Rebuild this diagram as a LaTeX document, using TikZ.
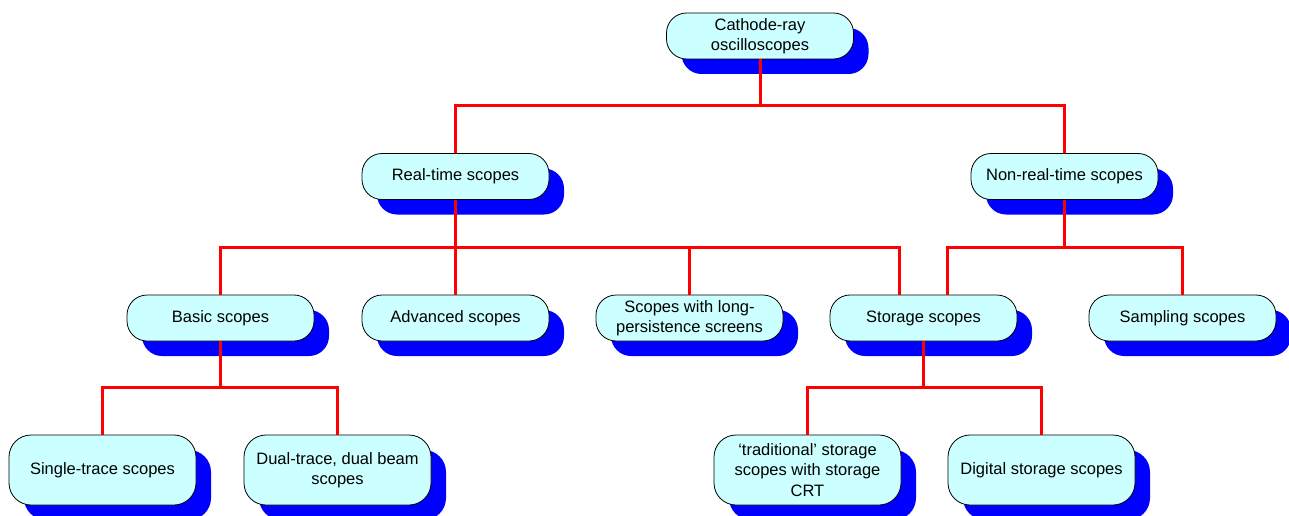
\documentclass[tikz,border=0pt]{standalone}
\usepackage{fontspec}
\setmainfont{Liberation Sans}
\usetikzlibrary{positioning,shadows}
\definecolor{boxfill}{RGB}{204,255,255}
\tikzset{
    scopebox/.style={
           rectangle,
           rounded corners=20pt,
           draw=black, line width=0.8pt,
           fill=boxfill,
           minimum width=187pt,
           minimum height=46pt,
           inner sep=2pt,
           align=center,
           font=\fontsize{16.5}{20.5}\selectfont,
           drop shadow={shadow xshift=15pt, shadow yshift=-15pt,
                        fill=blue, opacity=1},
           },
    tallbox/.style={
           scopebox,
           minimum height=70pt,
           rounded corners=22pt,
           },
    link/.style={
           draw=red, line width=3pt,
           },
}
\begin{document}
\begin{tikzpicture}[x=1pt,y=-1pt]
 \useasboundingbox (0,0) rectangle (1289,516);

 % root
 \node[scopebox] (CRO) at (760,36) {Cathode-ray\\oscilloscopes};

 % second level
 \node[scopebox] (REALTIME) at (455.5,176.5) {Real-time scopes};
 \node[scopebox] (NONREAL) at (1064.5,176.5) {Non-real-time scopes};

 % third level
 \node[scopebox] (BASIC) at (220.5,318) {Basic scopes};
 \node[scopebox] (ADVANCED) at (455.5,318) {Advanced scopes};
 \node[scopebox] (LONGPERS) at (689.5,318) {Scopes with long-\\persistence screens};
 \node[scopebox] (STORAGE) at (923.5,318) {Storage scopes};
 \node[scopebox] (SAMPLING) at (1182.5,318) {Sampling scopes};

 % fourth level
 \node[tallbox] (SINGLE) at (102.5,470) {Single-trace scopes};
 \node[tallbox] (DUAL) at (337.5,470) {Dual-trace, dual beam\\scopes};
 \node[tallbox] (TRAD) at (807.5,470) {‘traditional’ storage\\scopes with storage\\CRT};
 \node[tallbox] (DIGITAL) at (1041.5,470) {Digital storage scopes};

 % the red tree lines
 \draw[link] (CRO.south) -- ++(0,46) coordinate (J1);
 \draw[link] (REALTIME.north) |- (J1) -| (NONREAL.north);

 \draw[link] (REALTIME.south) -- ++(0,48) coordinate (J2);
 \draw[link] (BASIC.north) |- (J2) -| ([xshift=-24pt]STORAGE.north);
 \draw[link] (ADVANCED.north) -- (J2);
 \draw[link] (LONGPERS.north) |- (J2);

 \draw[link] (NONREAL.south) -- ++(0,48) coordinate (J3);
 \draw[link] ([xshift=24pt]STORAGE.north) |- (J3) -| (SAMPLING.north);

 \draw[link] (BASIC.south) -- ++(0,46) coordinate (J4);
 \draw[link] (SINGLE.north) |- (J4) -| (DUAL.north);

 \draw[link] (STORAGE.south) -- ++(0,46) coordinate (J5);
 \draw[link] (TRAD.north) |- (J5) -| (DIGITAL.north);
\end{tikzpicture}
\end{document}
